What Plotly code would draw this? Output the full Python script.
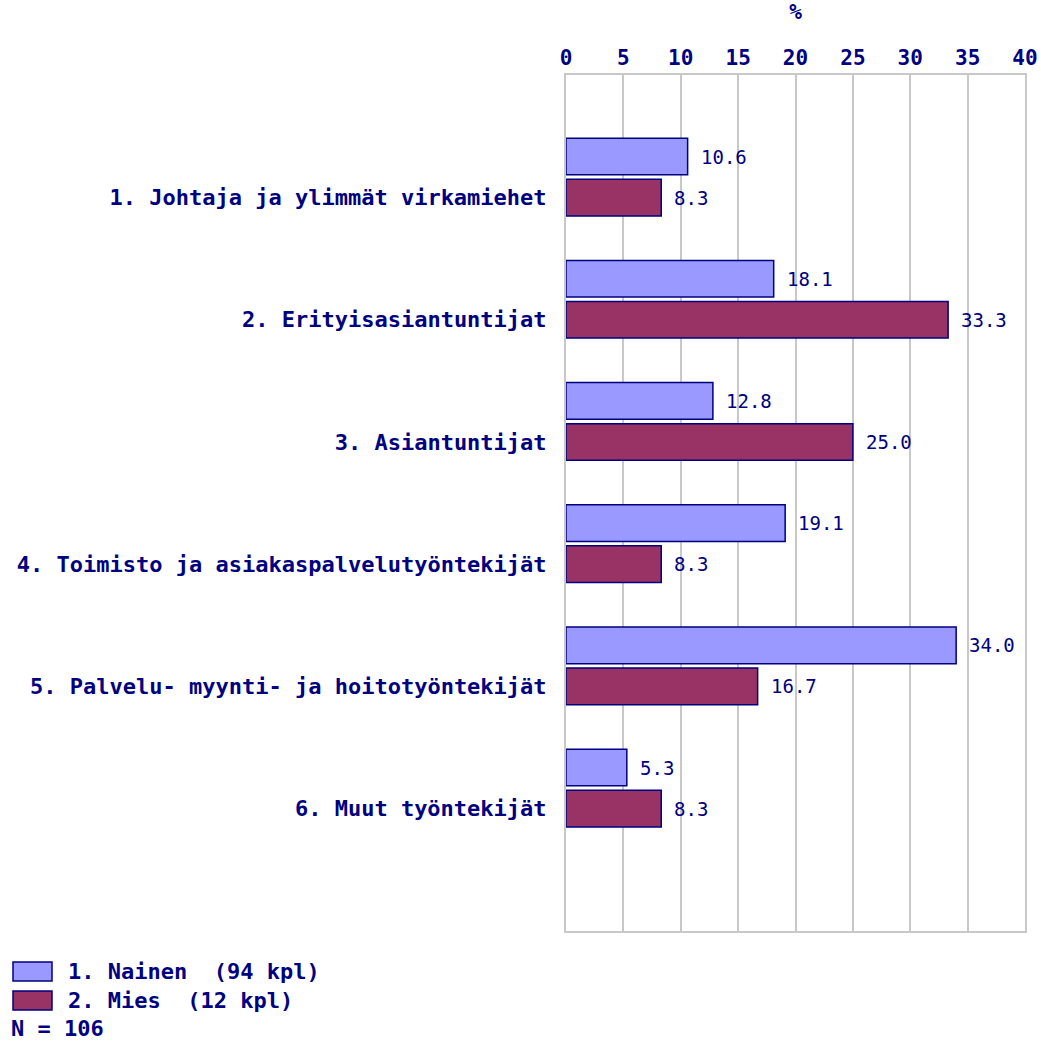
import numpy as np
import plotly.graph_objects as go

categories = [
    "1. Johtaja ja ylimmät virkamiehet",
    "2. Erityisasiantuntijat",
    "3. Asiantuntijat",
    "4. Toimisto ja asiakaspalvelutyöntekijät",
    "5. Palvelu- myynti- ja hoitotyöntekijät",
    "6. Muut työntekijät",
]
nainen = [10.6, 18.1, 12.8, 19.1, 34.0, 5.3]
mies = [8.3, 33.3, 25.0, 8.3, 16.7, 8.3]
series_names = ["1. Nainen  (94 kpl)", "2. Mies  (12 kpl)"]
n_text = "N = 106"
x_ticks = [0, 5, 10, 15, 20, 25, 30, 35, 40]

NAVY = "#000080"
BLUE = "#9999FF"
RED = "#993366"
GRID = "#c8c8c8"
FONT = "DejaVu Sans Mono"

# figure geometry (body margin removed by post_script)
OFF = 0
W, H = 1041, 1042
L, T = 566 - OFF, 75 - OFF
PLOT_R = 1025 - OFF
PLOT_B = 931 - OFF
R_ = W - PLOT_R
B = H - PLOT_B


def px(xp):
    return (xp - OFF - L) / (PLOT_R - L)


def py(yp):
    return (PLOT_B - (yp - OFF)) / (PLOT_B - T)


pos = np.arange(len(categories))
off = 0.168
bw = 0.30

fig = go.Figure()
for vals, color, name, sign in [(nainen, BLUE, series_names[0], -1), (mies, RED, series_names[1], 1)]:
    ys = pos + sign * off
    fig.add_trace(go.Bar(
        x=vals, y=ys, orientation="h", width=bw, name=name,
        marker=dict(color=color, line=dict(color=NAVY, width=1.5)),
        showlegend=False,
    ))
    for v, yy in zip(vals, ys):
        fig.add_annotation(x=v, y=yy, xref="x", yref="y", text=f"{v:.1f}",
                           showarrow=False, xanchor="left", xshift=11,
                           font=dict(family=FONT, size=19, color=NAVY))

# legend (manual)
for i, (name, color) in enumerate(zip(series_names, [BLUE, RED])):
    y0 = 962 + i * 29
    fig.add_shape(type="rect", xref="paper", yref="paper",
                  x0=px(13), x1=px(52), y0=py(y0 + 19), y1=py(y0),
                  fillcolor=color, line=dict(color=NAVY, width=1.5))
    fig.add_annotation(xref="paper", yref="paper",
                       x=px(66), y=py(y0 + 9.5),
                       text=f"<b>{name}</b>", showarrow=False, xanchor="left", yanchor="middle",
                       font=dict(family=FONT, size=22, color=NAVY))
fig.add_annotation(xref="paper", yref="paper",
                   x=px(9), y=py(1028),
                   text=f"<b>{n_text}</b>", showarrow=False, xanchor="left", yanchor="middle",
                   font=dict(family=FONT, size=22, color=NAVY))

fig.update_layout(
    width=W, height=H, autosize=False,
    margin=dict(l=L, r=R_, t=T, b=B, pad=0, autoexpand=False),
    plot_bgcolor="white", paper_bgcolor="white",
    barmode="overlay",
    font=dict(family=FONT, color=NAVY),
)
fig.update_xaxes(
    side="top", range=[0, 40], tickvals=x_ticks, ticktext=[str(t) for t in x_ticks],
    showgrid=True, gridcolor=GRID, gridwidth=2,
    showline=True, linecolor=GRID, linewidth=2, mirror=True,
    zeroline=False, ticks="", automargin=False,
    tickfont=dict(family=FONT, size=21, color=NAVY, weight="bold"),
    title=dict(text="<b>%</b>", font=dict(family=FONT, size=21, color=NAVY), standoff=20),
)
fig.update_yaxes(
    range=[6.17, -0.835], tickvals=pos + off, ticktext=categories,
    showgrid=False, zeroline=False, ticks="", automargin=False,
    showline=True, linecolor=GRID, linewidth=2, mirror=True,
    ticklabelstandoff=13,
    tickfont=dict(family=FONT, size=22, color=NAVY, weight="bold"),
)

fig.write_html(
    "out.html",
    config={"displayModeBar": False},
    post_script="document.body.style.margin='0';document.body.style.overflow='hidden';",
)
